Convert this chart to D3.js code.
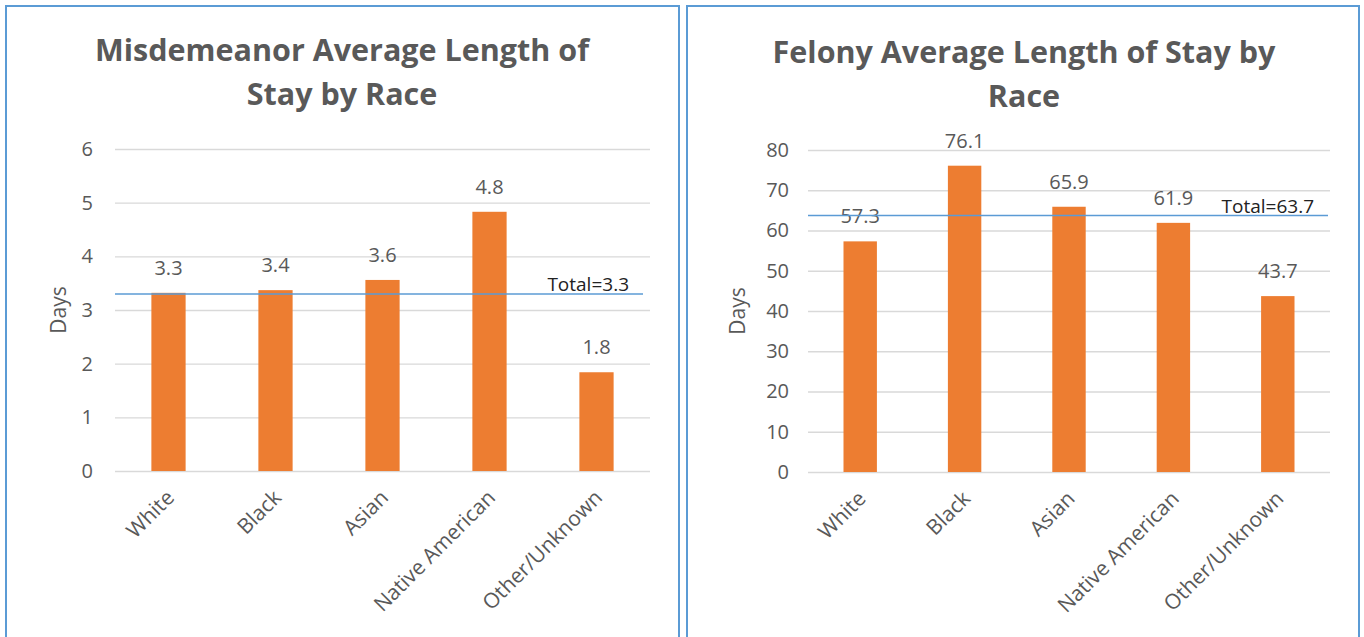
<!DOCTYPE html>
<html>
<head>
<meta charset="utf-8">
<script src="https://cdn.jsdelivr.net/npm/d3@7"></script>
<style>
  html, body { margin: 0; padding: 0; background: #fff; }
  svg { display: block; }
  text { font-family: "Open Sans", "Noto Sans", sans-serif; }
</style>
</head>
<body>
<svg id="chart" width="1364" height="637"></svg>
<script>
// ---- Data ----
const categories = ["White", "Black", "Asian", "Native American", "Other/Unknown"];
const misdemeanorValues = [3.3, 3.4, 3.6, 4.8, 1.8];
const misdemeanorPlotted = [3.32, 3.37, 3.56, 4.83, 1.84];
const misdemeanorTotal = 3.3;
const misdemeanorTicks = [0, 1, 2, 3, 4, 5, 6];
const felonyValues = [57.3, 76.1, 65.9, 61.9, 43.7];
const felonyTotal = 63.7;
const felonyTicks = [0, 10, 20, 30, 40, 50, 60, 70, 80];
const titles = [["Misdemeanor Average Length of", "Stay by Race"], ["Felony Average Length of Stay by", "Race"]];
const yTitle = "Days";

const svg = d3.select("#chart");
const gridColor = "#d9d9d9", barColor = "#ed7d31", textColor = "#595959", lineColor = "#5b9bd5";

const panels = [
  { box: [6, 6, 673, 640], title: titles[0], titleX: 342, titleY: [61, 105],
    xr: [115, 650], yr: [471, 149], domain: [0, 6], ticks: misdemeanorTicks,
    values: misdemeanorPlotted, labels: misdemeanorValues, total: misdemeanorTotal,
    lineEnd: 643, daysX: 66, tickGap: 22, fmt: d3.format("d") },
  { box: [687, 6, 672, 640], title: titles[1], titleX: 1024, titleY: [63, 107],
    xr: [808, 1330], yr: [472, 150], domain: [0, 80], ticks: felonyTicks,
    values: felonyValues, labels: felonyValues, total: felonyTotal,
    lineEnd: 1328, daysX: 745, tickGap: 19, fmt: d3.format("d") }
];

panels.forEach(p => {
  const g = svg.append("g");
  g.append("rect").attr("x", p.box[0]).attr("y", p.box[1]).attr("width", p.box[2]).attr("height", p.box[3])
    .attr("fill", "#fff").attr("stroke", lineColor).attr("stroke-width", 2);

  const x = d3.scaleBand().domain(categories).range(p.xr).paddingInner(0.68).paddingOuter(0.34);
  const y = d3.scaleLinear().domain(p.domain).range(p.yr);

  // Title
  p.title.forEach((t, i) => {
    g.append("text").attr("x", p.titleX).attr("y", p.titleY[i]).attr("text-anchor", "middle")
      .attr("fill", textColor).attr("font-size", 30.5).attr("font-weight", 700).text(t);
  });

  // Grid lines
  g.append("g").selectAll("line").data(p.ticks).join("line")
    .attr("x1", p.xr[0]).attr("x2", p.xr[1])
    .attr("y1", d => y(d) + 0.5).attr("y2", d => y(d) + 0.5)
    .attr("stroke", gridColor).attr("stroke-width", 1.3);

  // Y axis labels
  const yAxis = d3.axisLeft(y).tickValues(p.ticks).tickFormat(p.fmt).tickSize(0).tickPadding(p.tickGap);
  const ya = g.append("g").attr("transform", `translate(${p.xr[0]},0)`).call(yAxis);
  ya.select(".domain").remove();
  ya.selectAll("text").attr("fill", textColor).attr("font-size", 20)
    .attr("font-family", '"Open Sans", sans-serif');

  // Y title
  const cy = (p.yr[0] + p.yr[1]) / 2;
  g.append("text").attr("transform", `translate(${p.daysX},${cy}) rotate(-90)`)
    .attr("text-anchor", "middle").attr("fill", textColor).attr("font-size", 21).text(yTitle);

  // Bars
  g.append("g").selectAll("rect").data(p.values).join("rect")
    .attr("x", (d, i) => x(categories[i])).attr("width", x.bandwidth())
    .attr("y", d => y(d)).attr("height", d => y(0) - y(d)).attr("fill", barColor);

  // Data labels
  g.append("g").selectAll("text").data(p.labels).join("text")
    .attr("x", (d, i) => x(categories[i]) + x.bandwidth() / 2)
    .attr("y", (d, i) => y(p.values[i]) - 18)
    .attr("text-anchor", "middle").attr("fill", textColor).attr("font-size", 20)
    .text(d => d.toFixed(1));

  // X axis labels
  const xAxis = d3.axisBottom(x).tickSize(0).tickPadding(0);
  const xa = g.append("g").attr("transform", `translate(0,${p.yr[0]})`).call(xAxis);
  xa.select(".domain").remove();
  xa.selectAll("text").attr("fill", textColor).attr("font-size", 21)
    .attr("font-family", '"Open Sans", sans-serif')
    .attr("text-anchor", "end").attr("dy", 0).attr("y", 0)
    .attr("transform", "translate(7,28) rotate(-45)");

  // Total line
  const ty = y(p.total);
  g.append("line").attr("x1", p.xr[0]).attr("x2", p.lineEnd).attr("y1", ty).attr("y2", ty)
    .attr("stroke", lineColor).attr("stroke-width", 1.5);
  g.append("text").attr("x", p.lineEnd - 14).attr("y", ty - 3).attr("text-anchor", "end")
    .attr("fill", "#222").attr("font-size", 19).text("Total=" + p.total.toFixed(1));
});
</script>
</body>
</html>
